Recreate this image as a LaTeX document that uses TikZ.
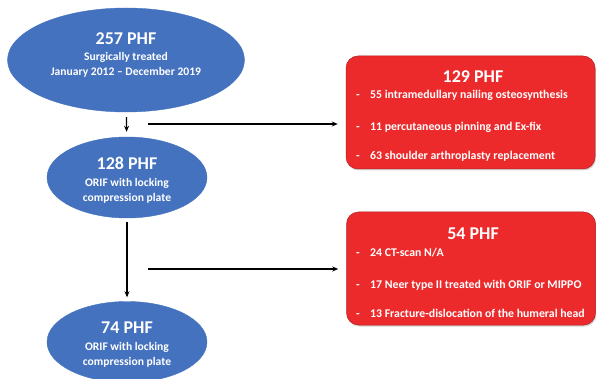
\documentclass[tikz,border=0pt]{standalone}
\usepackage{fontspec}
\setmainfont{Carlito}
\usetikzlibrary{shapes.geometric,arrows.meta,positioning,shadows}

\definecolor{phfblue}{RGB}{68,114,190}
\definecolor{phfred}{RGB}{236,42,44}

\begin{document}
\begin{tikzpicture}[
    x=1pt, y=1pt,
    cohort/.style={ellipse, fill=phfblue, draw=phfblue, inner sep=0pt,
                   text=white, align=center,
                   font=\fontsize{11.6}{15}\selectfont\bfseries},
    excl/.style={rectangle, rounded corners=12pt, fill=phfred,
                 draw=phfred!75!black, line width=0.5pt,
                 minimum width=249pt, minimum height=113pt,
                 drop shadow={opacity=0.35, shadow xshift=1pt, shadow yshift=-1.5pt}},
    head/.style={text=white, font=\fontsize{18}{20}\selectfont\bfseries},
    item/.style={anchor=west, text=white, inner sep=0pt,
                 font=\fontsize{11.8}{13}\selectfont\bfseries},
    flow/.style={-{Stealth[length=6pt,width=5pt]}, line width=1.2pt}
]
  \useasboundingbox (0,0) rectangle (596,-379);

  % Cohort ellipses (left column)
  \node[cohort, minimum width=237pt, minimum height=104pt] (all) at (126,-60)
    {};
  \node[cohort, minimum width=160pt, minimum height=81pt] (orif) at (127,-177.5)
    {};
  \node[cohort, minimum width=160pt, minimum height=81pt] (final) at (127,-342)
    {};

  % Texts of the ellipses
  \node[head] (allhead) at (126,-38.5) {257 PHF};
  \node[cohort, fill=none, draw=none] (alltext) at (126,-64.5)
    {Surgically treated\\January 2012 -- December 2019};
  \node[head] (orifhead) at (127,-163) {128 PHF};
  \node[cohort, fill=none, draw=none] (oriftext) at (127,-190.5)
    {ORIF with locking\\compression plate};
  \node[head] (finalhead) at (127,-328) {74 PHF};
  \node[cohort, fill=none, draw=none] (finaltext) at (127,-355)
    {ORIF with locking\\compression plate};

  % Exclusion boxes (right column)
  \node[excl] (excl1) at (470.5,-112.5) {};
  \node[head] (excl1head) at (473,-77) {129 PHF};
  \node[item] (excl1a) at (356,-95)  {\makebox[14pt][l]{-}55 intramedullary nailing osteosynthesis};
  \node[item] (excl1b) at (356,-127) {\makebox[14pt][l]{-}11 percutaneous pinning and Ex-fix};
  \node[item] (excl1c) at (356,-156) {\makebox[14pt][l]{-}63 shoulder arthroplasty replacement};

  \node[excl] (excl2) at (471,-268.5) {};
  \node[head] (excl2head) at (473,-234) {54 PHF};
  \node[item] (excl2a) at (356,-253) {\makebox[14pt][l]{-}24 CT-scan N/A};
  \node[item] (excl2b) at (356,-285) {\makebox[14pt][l]{-}17 Neer type II treated with ORIF or MIPPO};
  \node[item] (excl2c) at (356,-313) {\makebox[14pt][l]{-}13 Fracture-dislocation of the humeral head};

  % Branch points of the exclusion arrows
  \coordinate (split1) at (148,-124);
  \coordinate (split2) at (148,-269);

  % Connecting arrows
  \draw[flow, shorten <=5pt, shorten >=5pt] (all) -- (orif);
  \draw[flow, shorten <=4pt, shorten >=4pt] (orif) -- (final);
  \draw[flow, shorten >=8pt] (split1) -- (split1 -| excl1.west);
  \draw[flow, shorten >=8pt] (split2) -- (split2 -| excl2.west);

\end{tikzpicture}
\end{document}
